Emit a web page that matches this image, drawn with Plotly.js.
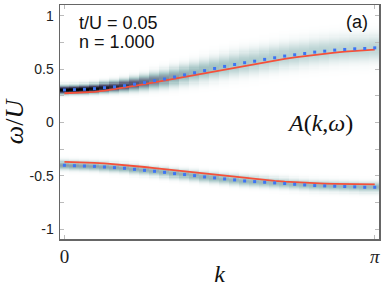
<!DOCTYPE html>
<html>
<head>
<meta charset="utf-8">
<script src="https://cdn.plot.ly/plotly-3.0.1.min.js"></script>
<style>html,body{margin:0;padding:0;background:#fff;}#chart{width:382px;height:287px;}</style>
</head>
<body>
<div id="chart"></div>
<script>
// momentum grid index (32 points from 0 to pi)
const kIndex = [0,1,2,3,4,5,6,7,8,9,10,11,12,13,14,15,16,17,18,19,20,21,22,23,24,25,26,27,28,29,30,31];

// peak positions of the spectral function (blue dots)
const upperPeak = [0.305,0.308,0.311,0.317,0.326,0.334,0.345,0.359,0.374,0.392,0.407,0.426,0.446,0.466,0.486,0.506,
                   0.525,0.543,0.560,0.574,0.591,0.606,0.622,0.634,0.646,0.659,0.668,0.678,0.684,0.690,0.693,0.699];
const lowerPeak = [-0.400,-0.404,-0.407,-0.410,-0.416,-0.422,-0.428,-0.438,-0.447,-0.456,-0.466,-0.478,-0.487,-0.497,-0.509,-0.518,
                   -0.528,-0.537,-0.547,-0.553,-0.559,-0.565,-0.571,-0.578,-0.584,-0.590,-0.593,-0.596,-0.599,-0.602,-0.606,-0.606];

// theory curves (red)
const upperTheory = [0.274,0.276,0.280,0.287,0.298,0.311,0.326,0.343,0.360,0.377,0.394,0.411,0.428,0.445,0.463,0.480,
                     0.497,0.514,0.531,0.548,0.564,0.580,0.595,0.609,0.622,0.634,0.645,0.655,0.664,0.671,0.677,0.682];
const lowerTheory = [-0.369,-0.370,-0.373,-0.377,-0.383,-0.390,-0.398,-0.407,-0.416,-0.426,-0.436,-0.447,-0.458,-0.469,-0.480,-0.491,
                     -0.501,-0.511,-0.521,-0.530,-0.538,-0.546,-0.553,-0.559,-0.564,-0.568,-0.571,-0.574,-0.576,-0.577,-0.578,-0.578];

// spectral weight and broadening read per column
const upperWeight = [1.0,1.0,1.0,0.95,0.88,0.80,0.72,0.64,0.56,0.49,0.43,0.38,0.34,0.31,0.29,0.27,
                     0.26,0.25,0.24,0.23,0.22,0.22,0.21,0.21,0.20,0.20,0.20,0.19,0.19,0.19,0.19,0.19];
const upperWidth = [0.026,0.026,0.027,0.028,0.030,0.032,0.035,0.039,0.043,0.047,0.051,0.055,0.058,0.061,0.064,0.067,
                    0.069,0.071,0.073,0.074,0.075,0.076,0.077,0.078,0.078,0.079,0.079,0.080,0.080,0.080,0.080,0.080];
const lowerWeight = [0.38,0.38,0.37,0.37,0.36,0.36,0.35,0.35,0.34,0.34,0.33,0.33,0.33,0.32,0.32,0.32,
                     0.31,0.31,0.31,0.31,0.30,0.30,0.30,0.30,0.30,0.30,0.30,0.30,0.30,0.30,0.30,0.30];
const lowerWidth = [0.027,0.027,0.027,0.027,0.028,0.028,0.028,0.029,0.029,0.029,0.030,0.030,0.030,0.031,0.031,0.031,
                    0.031,0.032,0.032,0.032,0.032,0.032,0.032,0.032,0.032,0.032,0.032,0.032,0.032,0.032,0.032,0.032];

const xTickVals = [0, Math.PI];
const xTickText = ['0', '<i>π</i>'];
const yTickVals = [-1,-0.75,-0.5,-0.25,0,0.25,0.5,0.75,1];
const yTickText = ['-1','','-0.5','','0','','0.5','','1'];

// build the heatmap table from the arrays above
const kVals = kIndex.map(i => i * Math.PI / 31);
const omega = [];
for (let w = -1.09; w <= 1.1001; w += 0.01) omega.push(+w.toFixed(3));
const z = omega.map(w => kIndex.map(j => {
  const a = (w - upperPeak[j]) / upperWidth[j];
  const b = (w - lowerPeak[j]) / lowerWidth[j];
  const v = upperWeight[j] * Math.exp(-0.5*a*a) + lowerWeight[j] * Math.exp(-0.5*b*b);
  return Math.min(v, 1);
}));

const boneR = [[0,'rgb(255,255,255)'],[0.254,'rgb(166,198,198)'],[0.635,'rgb(81,81,113)'],[1,'rgb(0,0,0)']];

const traces = [
  {type:'heatmap', x:kVals, y:omega, z:z, colorscale:boneR, zmin:0, zmax:1, showscale:false, zsmooth:false, hoverinfo:'skip'},
  {type:'scatter', mode:'lines', x:kVals, y:upperTheory, line:{color:'#f4503a', width:1.8}, hoverinfo:'skip'},
  {type:'scatter', mode:'lines', x:kVals, y:lowerTheory, line:{color:'#f4503a', width:1.8}, hoverinfo:'skip'},
  {type:'scatter', mode:'markers', x:kVals, y:upperPeak, marker:{color:'#3d74f5', size:3, symbol:'square'}, hoverinfo:'skip'},
  {type:'scatter', mode:'markers', x:kVals, y:lowerPeak, marker:{color:'#3d74f5', size:3, symbol:'square'}, hoverinfo:'skip'}
];

const layout = {
  width:382, height:287,
  margin:{l:60, r:3, t:5, b:48},
  paper_bgcolor:'#fff', plot_bgcolor:'#fff',
  showlegend:false,
  xaxis:{
    range:[-0.045, Math.PI+0.043], tickvals:xTickVals, ticktext:xTickText,
    ticks:'inside', ticklen:4, tickcolor:'#bbb', showgrid:false, zeroline:false,
    showline:true, linecolor:'#666', linewidth:1.5, mirror:'ticks',
    tickfont:{family:'Liberation Serif', size:19, color:'#222'},
    title:{text:'<i>k</i>', font:{family:'Liberation Serif', size:24, color:'#111'}, standoff:2},
    automargin:false
  },
  yaxis:{
    range:[-1.09, 1.1], tickvals:yTickVals, ticktext:yTickText,
    ticks:'inside', ticklen:4, tickcolor:'#bbb', showgrid:false, zeroline:false,
    showline:true, linecolor:'#666', linewidth:1.5, mirror:'ticks',
    tickfont:{family:'Liberation Sans', size:14, color:'#222'},
    ticklabelstandoff:2,
    title:{text:'<i>ω</i>/<i>U</i>', font:{family:'Liberation Serif', size:26, color:'#111'}, standoff:4},
    automargin:false
  },
  annotations:[
    {x:0.131, y:0.932, xref:'x', yref:'y', xanchor:'left', yanchor:'middle', showarrow:false,
     text:'t/U = 0.05', font:{family:'Liberation Sans', size:18, color:'#111'}},
    {x:0.131, y:0.755, xref:'x', yref:'y', xanchor:'left', yanchor:'middle', showarrow:false,
     text:'n = 1.000', font:{family:'Liberation Sans', size:18, color:'#111'}},
    {x:3.09, y:0.94, xref:'x', yref:'y', xanchor:'right', yanchor:'middle', showarrow:false,
     text:'(a)', font:{family:'Liberation Sans', size:18, color:'#111'}},
    {x:2.232, y:0.0, xref:'x', yref:'y', xanchor:'left', yanchor:'middle', showarrow:false,
     text:'<i>A</i>(<i>k</i>,<i>ω</i>)', font:{family:'Liberation Serif', size:24, color:'#111'}}
  ]
};

Plotly.newPlot('chart', traces, layout, {staticPlot:true, displayModeBar:false});
</script>
</body>
</html>
